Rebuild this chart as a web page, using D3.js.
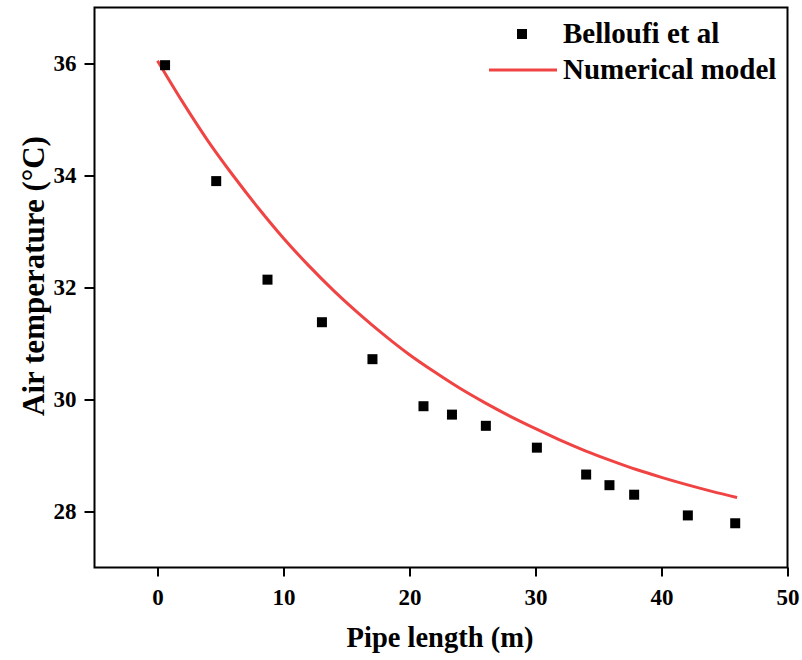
<!DOCTYPE html>
<html>
<head>
<meta charset="utf-8">
<script src="https://cdn.jsdelivr.net/npm/d3@7"></script>
<style>
  html, body { margin: 0; padding: 0; background: #fff; }
  svg { display: block; }
  text { font-family: "Liberation Serif", "Times New Roman", serif; font-weight: bold; fill: #000; }
</style>
</head>
<body>
<svg id="chart" width="802" height="660"></svg>
<script>
// Experimental measurements (Belloufi et al)
const expLength = [0.6, 4.66, 8.73, 13.05, 17.06, 21.11, 23.37, 26.06, 30.11, 34.02, 35.87, 37.83, 42.09, 45.85];
const expTemp   = [35.97, 33.90, 32.14, 31.38, 30.72, 29.88, 29.73, 29.53, 29.14, 28.66, 28.47, 28.30, 27.93, 27.79];

// Numerical model output along the pipe
const modelLength = [0, 2, 4, 6, 8, 10, 12, 14, 16, 18, 20, 22, 24, 26, 28, 30, 32, 34, 36, 38, 40, 42, 44, 46];
const modelTemp   = [36.05, 35.31, 34.62, 34.00, 33.42, 32.88, 32.39, 31.94, 31.53, 31.15, 30.80, 30.49,
                     30.20, 29.94, 29.70, 29.48, 29.27, 29.08, 28.91, 28.75, 28.61, 28.48, 28.36, 28.25];

const xTicks = [0, 10, 20, 30, 40, 50];
const yTicks = [28, 30, 32, 34, 36];
const seriesNames = ["Belloufi et al", "Numerical model"];

const svg = d3.select("#chart");
const plotLeft = 94.5, plotRight = 787.5, plotTop = 7.5, plotBottom = 567.5;

const x = d3.scaleLinear().domain([-5, 50]).range([plotLeft, plotRight]);
const y = d3.scaleLinear().domain([27, 37]).range([plotBottom, plotTop]);

// Model curve
const line = d3.line()
  .x((d, i) => x(modelLength[i]))
  .y(d => y(d))
  .curve(d3.curveMonotoneX);

svg.append("path")
  .datum(modelTemp)
  .attr("d", line)
  .attr("fill", "none")
  .attr("stroke", "#f04444")
  .attr("stroke-width", 3);

// Measured points
const sq = 10;
svg.append("g").selectAll("rect")
  .data(expTemp)
  .join("rect")
  .attr("x", (d, i) => x(expLength[i]) - sq / 2)
  .attr("y", d => y(d) - sq / 2)
  .attr("width", sq)
  .attr("height", sq)
  .attr("fill", "#000");

// Frame
svg.append("rect")
  .attr("x", plotLeft).attr("y", plotTop)
  .attr("width", plotRight - plotLeft).attr("height", plotBottom - plotTop)
  .attr("fill", "none").attr("stroke", "#000").attr("stroke-width", 2);

// Axes
const xAxis = svg.append("g")
  .attr("transform", `translate(0,${plotBottom})`)
  .call(d3.axisBottom(x).tickValues(xTicks).tickSize(9).tickPadding(12).tickFormat(d3.format("d")));
const yAxis = svg.append("g")
  .attr("transform", `translate(${plotLeft},0)`)
  .call(d3.axisLeft(y).tickValues(yTicks).tickSize(10).tickPadding(8).tickFormat(d3.format("d")));

[xAxis, yAxis].forEach(g => {
  g.select(".domain").remove();
  g.selectAll(".tick line").attr("stroke", "#000").attr("stroke-width", 2);
  g.selectAll(".tick text")
    .attr("fill", "#000")
    .style("font-family", "'Liberation Serif', serif")
    .style("font-weight", "bold")
    .style("font-size", "23px");
});

// Axis titles
svg.append("text")
  .attr("x", 440)
  .attr("y", 647)
  .attr("text-anchor", "middle")
  .style("font-size", "28.5px")
  .text("Pipe length (m)");

svg.append("text")
  .attr("transform", "translate(44,276) rotate(-90)")
  .attr("text-anchor", "middle")
  .style("font-size", "31px")
  .text("Air temperature (°C)");

// Legend
const legend = svg.append("g");
legend.append("rect")
  .attr("x", 517).attr("y", 29).attr("width", 10).attr("height", 10).attr("fill", "#000");
legend.append("line")
  .attr("x1", 489).attr("x2", 557).attr("y1", 70).attr("y2", 70)
  .attr("stroke", "#f04444").attr("stroke-width", 3);
legend.selectAll("text.lbl")
  .data(seriesNames)
  .join("text")
  .attr("class", "lbl")
  .attr("x", 563)
  .attr("y", (d, i) => 43 + i * 36)
  .style("font-size", "29px")
  .text(d => d);
</script>
</body>
</html>
